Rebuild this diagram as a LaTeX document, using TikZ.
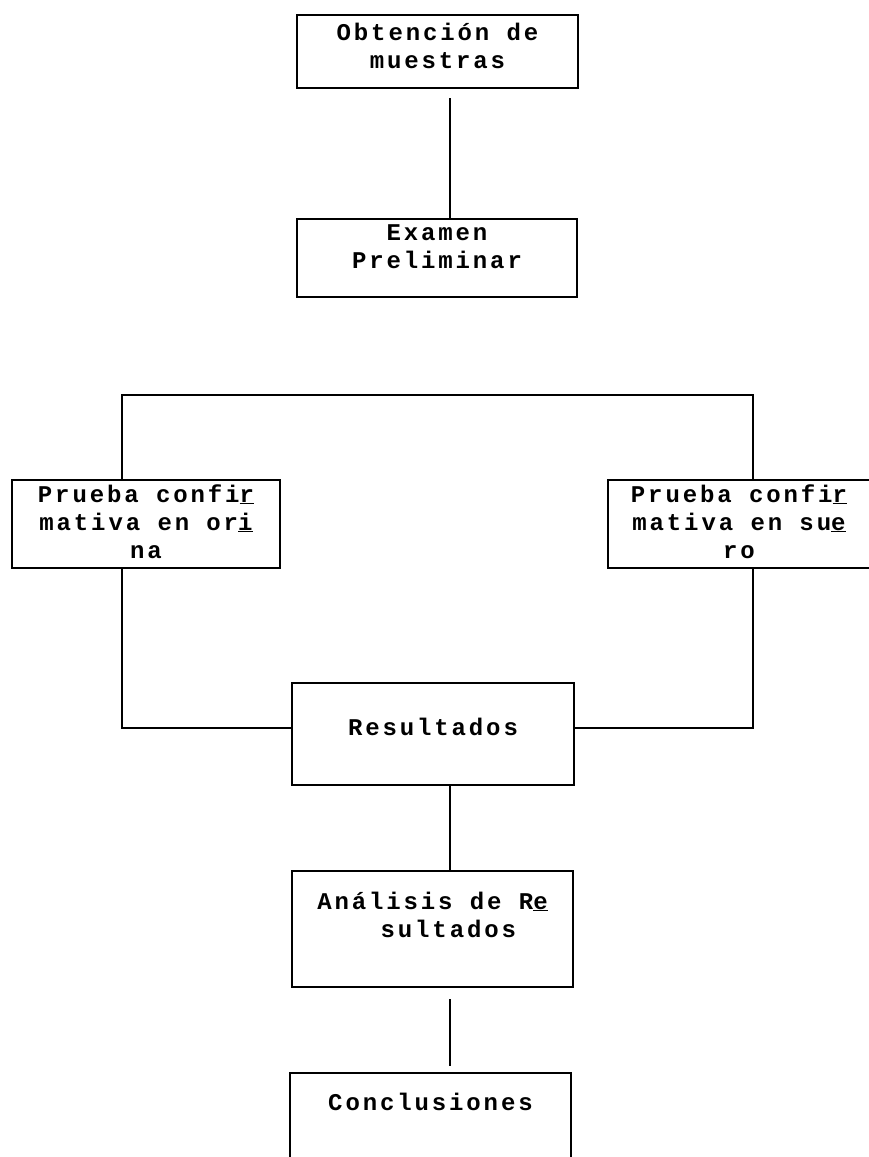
\documentclass[tikz,border=0pt]{standalone}
\usepackage{fontspec}
\newfontfamily\maquina{Liberation Mono}[LetterSpace=12]
\tikzset{
  caja/.style={draw, line width=2.4pt, inner sep=0pt, align=center,
    font=\maquina\bfseries\fontsize{24}{28}\selectfont},
  linea/.style={line width=2.2pt}
}
\begin{document}
\begin{tikzpicture}[x=1pt,y=-1pt]
  \useasboundingbox (0,0) rectangle (868,1157);
  % cajas
  \node[caja, minimum width=281pt, text height=53pt, text depth=20pt] (obt) at (437.5,51.5) {Obtención de\\muestras};
  \node[caja, minimum width=280pt, text height=49pt, text depth=29pt] (exa) at (437,258) {Examen\\Preliminar};
  \node[caja, minimum width=268pt, text height=78pt, text depth=10pt] (ori) at (146,524) {Prueba confi\underline{r}\\mativa en or\underline{i}\\na};
  \node[caja, minimum width=262pt, text height=78pt, text depth=10pt] (sue) at (739,524) {Prueba confi\underline{r}\\mativa en su\underline{e}\\ro};
  \node[caja, minimum width=282pt, text height=52pt, text depth=50pt] (res) at (433,734) {Resultados};
  \node[caja, minimum width=281pt, text height=66pt, text depth=50pt] (ana) at (432.5,929) {Análisis de R\underline{e}\\\hphantom{xx}sultados};
  \node[caja, minimum width=281pt, text height=37pt, text depth=60pt] (con) at (430.5,1121.5) {Conclusiones};
  % lineas
  \coordinate (eje) at (450,0);
  \coordinate (izq) at (122,395);
  \coordinate (der) at (753,395);
  \draw[linea, shorten <=9pt] (obt.south -| eje) -- (exa.north -| eje);
  \draw[linea] (ori.north -| izq) -- (izq) -- (der) -- (sue.north -| der);
  \draw[linea] (ori.south -| izq) |- ([yshift=6pt]res.west);
  \draw[linea] (sue.south -| der) |- ([yshift=6pt]res.east);
  \draw[linea] (res.south -| eje) -- (ana.north -| eje);
  \draw[linea, shorten <=11pt, shorten >=6pt] (ana.south -| eje) -- (con.north -| eje);
\end{tikzpicture}
\end{document}
